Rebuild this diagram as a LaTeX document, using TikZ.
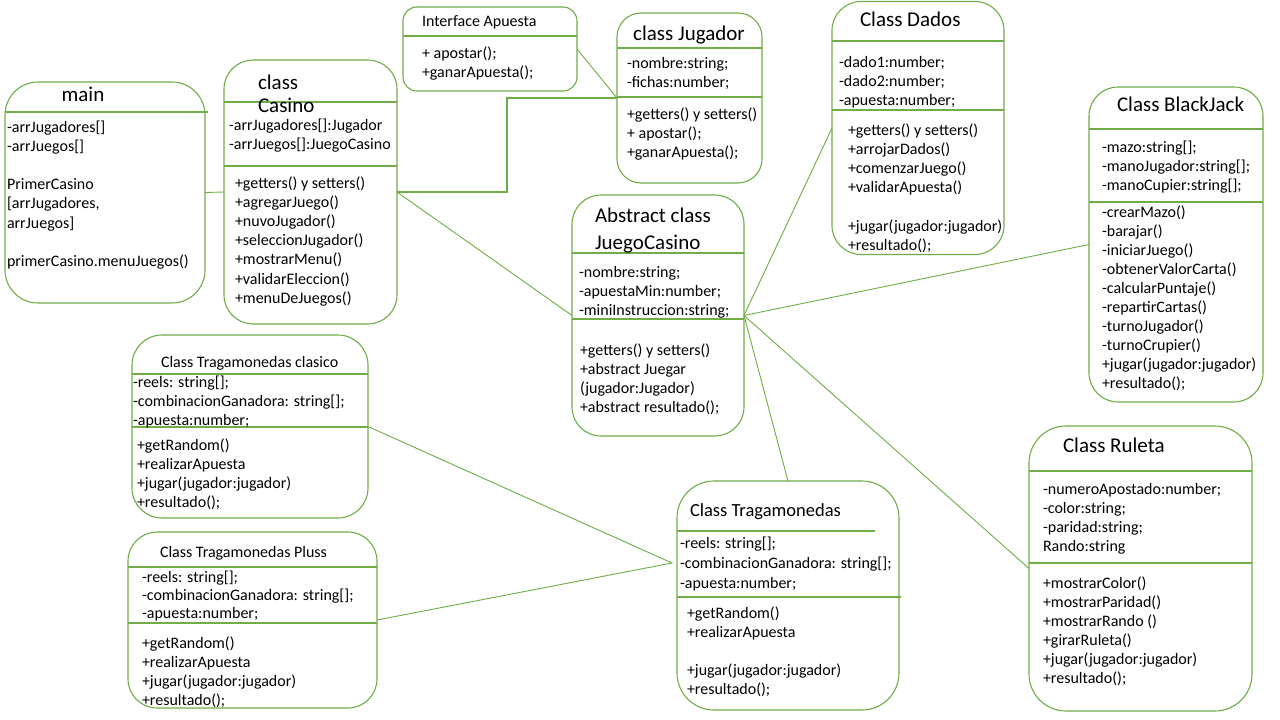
\documentclass[tikz,border=0pt]{standalone}
\usepackage{fontspec}
\setmainfont{Carlito}
\usetikzlibrary{calc}
\definecolor{uml}{RGB}{112,173,71}
\newcommand\rowsof[1]{\begin{tabular}[t]{@{}l@{}}#1\end{tabular}}
\begin{document}
\begin{tikzpicture}[x=1pt,y=-1pt,
  box/.style={draw=uml, line width=1.1pt, inner sep=0pt, outer sep=0pt, anchor=north west},
  div/.style={draw=uml, line width=1.1pt},
  conn/.style={draw=uml, line width=0.9pt},
  thickconn/.style={draw=uml, line width=2.4pt},
  txt/.style={anchor=base west, inner sep=0pt, outer sep=0pt, font=\fontsize{16}{19.2}\selectfont},
  ttl/.style={anchor=base west, inner sep=0pt, outer sep=0pt, font=\fontsize{21}{25}\selectfont},
  ttls/.style={anchor=base west, inner sep=0pt, outer sep=0pt, font=\fontsize{16}{19.2}\selectfont}]
\useasboundingbox[fill=white] (0,0) rectangle (1280,720);

% ---------- boxes ----------
\node[box, rounded corners=33pt, minimum width=200pt, minimum height=221pt] (main) at (5,82) {};
\node[box, rounded corners=29pt, minimum width=173pt, minimum height=264pt] (casino) at (224,60) {};
\node[box, rounded corners=14pt, minimum width=174pt, minimum height=84pt] (apuesta) at (403,7) {};
\node[box, rounded corners=24pt, minimum width=145pt, minimum height=170pt] (jugador) at (617,13) {};
\node[box, rounded corners=29pt, minimum width=172pt, minimum height=241pt] (jc) at (572,195) {};
\node[box, rounded corners=29pt, minimum width=172pt, minimum height=253pt] (dados) at (832,1.5) {};
\node[box, rounded corners=29pt, minimum width=174pt, minimum height=315pt] (bj) at (1089,87) {};
\node[box, rounded corners=37pt, minimum width=223pt, minimum height=285pt] (ruleta) at (1029,426) {};
\node[box, rounded corners=30pt, minimum width=236pt, minimum height=183pt] (clasico) at (132,335) {};
\node[box, rounded corners=29pt, minimum width=249pt, minimum height=176pt] (pluss) at (128,532) {};
\node[box, rounded corners=37pt, minimum width=222pt, minimum height=229pt] (trag) at (677,481) {};

% ---------- dividers ----------
\draw[div] (5,112) -- (208,112);
\draw[div] (224,102) -- (397,102);
\draw[div] (224,166) -- (397,166);
\draw[div] (403,36) -- (577,36);
\draw[div] (617,48) -- (762,48);
\draw[div] (617,97) -- (762,97);
\draw[div] (572,253) -- (744,253);
\draw[div] (572,319) -- (744,319);
\draw[div] (832,41) -- (1004,41);
\draw[div] (832,110) -- (1004,110);
\draw[div] (1089,129) -- (1263,129);
\draw[div] (1089,202) -- (1263,202);
\draw[div] (1029,471) -- (1252,471);
\draw[div] (1029,563) -- (1252,563);
\draw[div] (132,374) -- (368,374);
\draw[div] (132,427) -- (368,427);
\draw[div] (128,567) -- (377,567);
\draw[div] (128,623) -- (377,623);
\draw[div] (677,531) -- (875,531);
\draw[div] (677,597) -- (901,597);

% ---------- texts ----------
% main
\node[ttl, anchor=base] (mainT) at (83,101) {main};
\node[txt] (mainA) at (7,132) {\rowsof{-arrJugadores[]\\-arrJuegos[]\\ \\PrimerCasino\\{[}arrJugadores,\\arrJuegos]\\ \\primerCasino.menuJuegos()}};
% casino
\node[ttl, font=\fontsize{21}{23.5}\selectfont] (casinoT) at (258,89) {\rowsof{class\\Casino}};
\node[txt] (casinoA) at (229,130) {\rowsof{-arrJugadores[]:Jugador\\-arrJuegos[]:JuegoCasino}};
\node[txt] (casinoM) at (235,188) {\rowsof{+getters() y setters()\\+agregarJuego()\\+nuvoJugador()\\+seleccionJugador()\\+mostrarMenu()\\+validarEleccion()\\+menuDeJuegos()}};
% interface apuesta
\node[ttls] (apuestaT) at (422,26) {Interface Apuesta};
\node[txt] (apuestaM) at (422,58) {\rowsof{+ apostar();\\+ganarApuesta();}};
% jugador
\node[ttl, anchor=base] (jugadorT) at (689,40) {class Jugador};
\node[txt] (jugadorA) at (627,68) {\rowsof{-nombre:string;\\-fichas:number;}};
\node[txt] (jugadorM) at (627,119) {\rowsof{+getters() y setters()\\+ apostar();\\+ganarApuesta();}};
% juego casino
\node[ttl, font=\fontsize{21}{27}\selectfont] (jcT) at (595,222) {\rowsof{Abstract class\\JuegoCasino}};
\node[txt] (jcA) at (579,277) {\rowsof{-nombre:string;\\-apuestaMin:number;\\-miniInstruccion:string;}};
\node[txt] (jcM) at (580,355) {\rowsof{+getters() y setters()\\+abstract Juegar\\(jugador:Jugador)\\+abstract resultado();}};
% dados
\node[ttl] (dadosT) at (860,27) {Class Dados};
\node[txt] (dadosA) at (839,67) {\rowsof{-dado1:number;\\-dado2:number;\\-apuesta:number;}};
\node[txt] (dadosM) at (848,135) {\rowsof{+getters() y setters()\\+arrojarDados()\\+comenzarJuego()\\+validarApuesta()\\ \\+jugar(jugador:jugador)\\+resultado();}};
% blackjack
\node[ttl] (bjT) at (1117,111) {Class BlackJack};
\node[txt] (bjA) at (1102,152) {\rowsof{-mazo:string[];\\-manoJugador:string[];\\-manoCupier:string[];}};
\node[txt, font=\fontsize{16}{19.1}\selectfont] (bjM) at (1102,217) {\rowsof{-crearMazo()\\-barajar()\\-iniciarJuego()\\-obtenerValorCarta()\\-calcularPuntaje()\\-repartirCartas()\\-turnoJugador()\\-turnoCrupier()\\+jugar(jugador:jugador)\\+resultado();}};
% ruleta
\node[ttl] (ruletaT) at (1063,452) {Class Ruleta};
\node[txt] (ruletaA) at (1043,494) {\rowsof{-numeroApostado:number;\\-color:string;\\-paridad:string;\\Rando:string}};
\node[txt, font=\fontsize{16}{19}\selectfont] (ruletaM) at (1043,588) {\rowsof{+mostrarColor()\\+mostrarParidad()\\+mostrarRando ()\\+girarRuleta()\\+jugar(jugador:jugador)\\+resultado();}};
% tragamonedas clasico
\node[ttls] (clasicoT) at (161,367) {Class Tragamonedas clasico};
\node[txt, font=\fontsize{16}{19}\selectfont] (clasicoA) at (133,387) {\rowsof{-reels: string[];\\-combinacionGanadora: string[];\\-apuesta:number;}};
\node[txt] (clasicoM) at (137,450) {\rowsof{+getRandom()\\+realizarApuesta\\+jugar(jugador:jugador)\\+resultado();}};
% tragamonedas pluss
\node[ttls] (plussT) at (160,557) {Class Tragamonedas Pluss};
\node[txt, font=\fontsize{16}{18}\selectfont] (plussA) at (142,582) {\rowsof{-reels: string[];\\-combinacionGanadora: string[];\\-apuesta:number;}};
\node[txt] (plussM) at (142,648) {\rowsof{+getRandom()\\+realizarApuesta\\+jugar(jugador:jugador)\\+resultado();}};
% tragamonedas
\node[ttl, font=\fontsize{18.5}{22}\selectfont] (tragT) at (690,516) {Class Tragamonedas};
\node[txt, font=\fontsize{16}{20}\selectfont] (tragA) at (680,548) {\rowsof{-reels: string[];\\-combinacionGanadora: string[];\\-apuesta:number;}};
\node[txt, font=\fontsize{16}{19}\selectfont] (tragM) at (687,618) {\rowsof{+getRandom()\\+realizarApuesta\\ \\+jugar(jugador:jugador)\\+resultado();}};

% ---------- connectors ----------
\draw[conn] (main.east) -- (casino.west);
\draw[thickconn] (casino.east) -| ($(casino.east)!0.5!(jugador.west)$) |- (jugador.west);
\draw[conn] (apuesta.east) -- (jugador.west);
\draw[conn] (casino.east) -- (jc.west);
\draw[conn] (jc.east) -- (dados.west);
\draw[conn] (jc.east) -- (bj.west);
\draw[conn] (jc.east) -- (ruleta.west);
\draw[conn] (jc.east) -- (trag.north);
\coordinate (tragIn) at (672,563);
\draw[conn] (clasico.east) -- (tragIn) -- (pluss.east);
\end{tikzpicture}
\end{document}
